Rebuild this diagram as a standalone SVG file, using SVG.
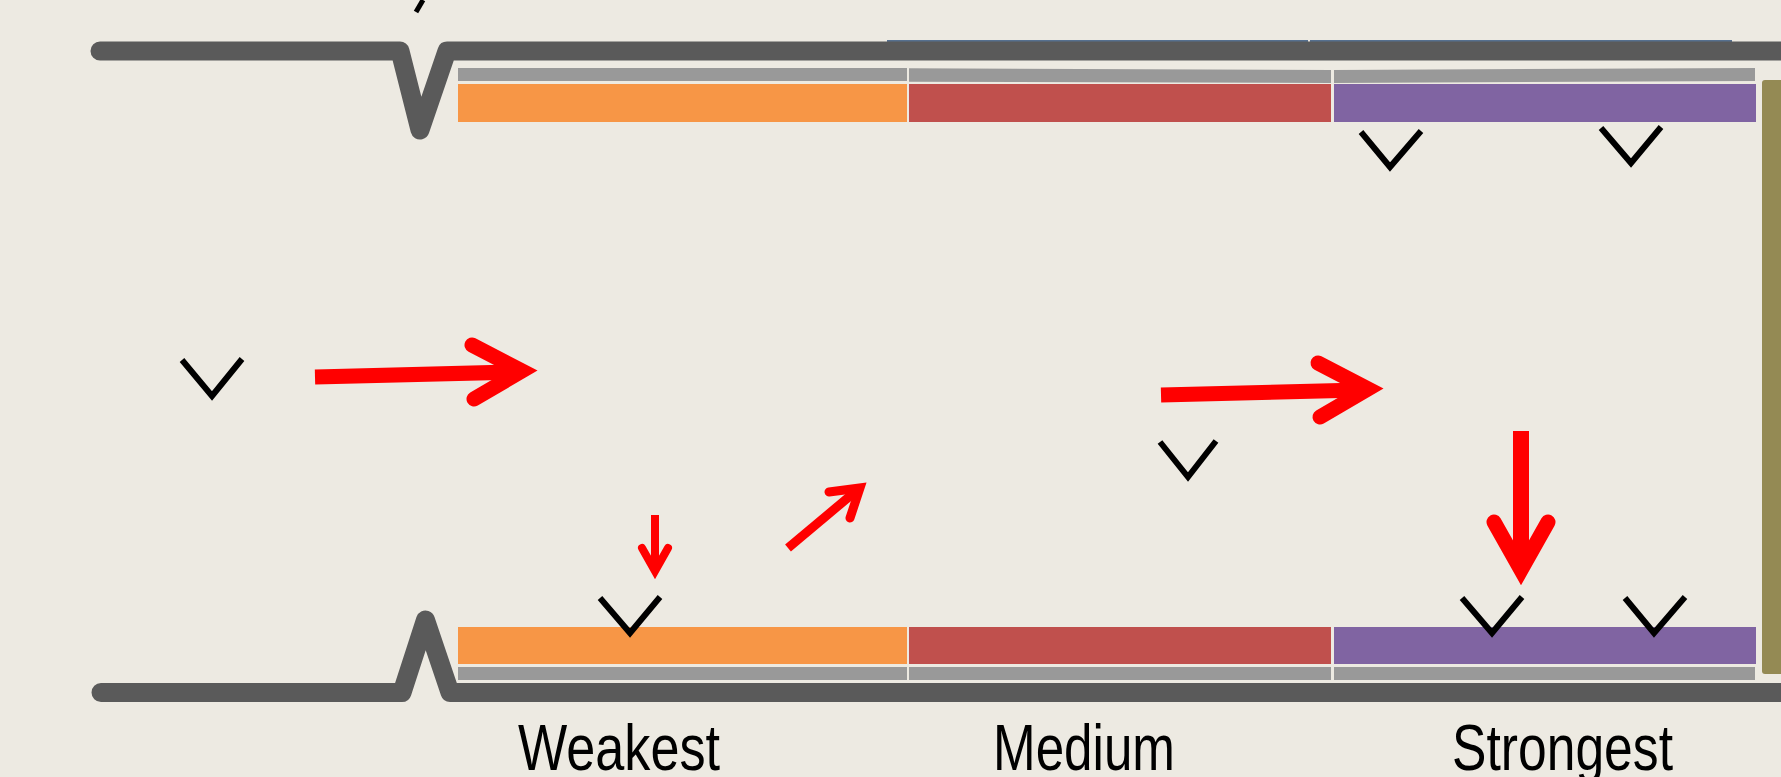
<svg xmlns="http://www.w3.org/2000/svg" width="1781" height="777" viewBox="0 0 1781 777">
  <style>
    .wall { fill: none; stroke: #5a5a5a; stroke-width: 19; stroke-linecap: round; stroke-linejoin: round; }
    .liner { fill: #999999; }
    .orange { fill: #f79646; }
    .red { fill: #c0504d; }
    .purple { fill: #8064a2; }
    .chev { fill: none; stroke: #000000; stroke-width: 6; stroke-linejoin: miter; }
    .shaft { fill: none; stroke: #ff0000; stroke-linecap: butt; }
    .head { fill: none; stroke: #ff0000; stroke-linecap: round; stroke-linejoin: miter; stroke-miterlimit: 10; }
    .label { font-family: "Liberation Sans", Arial, sans-serif; font-size: 65px; fill: #000000; }
  </style>
  <rect x="0" y="0" width="1781" height="777" fill="#edeae2"/>

  <g id="walls">
    <line x1="887" y1="41" x2="1308" y2="41" stroke="#56708f" stroke-width="2"/>
    <line x1="1310" y1="41" x2="1732" y2="41" stroke="#56708f" stroke-width="2"/>
    <polyline class="wall" points="100,51 400,51 420,130 447,51 1800,51"/>
    <polyline class="wall" points="101,692.5 402,692.5 425.5,620 450,692.5 1800,692.5"/>
    <line x1="423" y1="0" x2="416" y2="12" stroke="#000" stroke-width="5"/>
  </g>

  <g id="top-zones">
    <rect class="liner" x="458" y="68" width="449" height="13"/>
    <polygon class="liner" points="909,68.3 1331,70 1331,83 909,81.7"/>
    <polygon class="liner" points="1334,70 1755,68 1755,81 1334,83"/>
    <rect class="orange" x="458" y="84" width="449" height="38"/>
    <rect class="red" x="909" y="84" width="422" height="38"/>
    <rect class="purple" x="1334" y="84" width="422" height="38"/>
  </g>

  <g id="bottom-zones">
    <rect class="orange" x="458" y="627" width="449" height="37"/>
    <rect class="red" x="909" y="627" width="422" height="37"/>
    <rect class="purple" x="1334" y="627" width="422" height="37"/>
    <rect class="liner" x="458" y="667" width="449" height="13"/>
    <rect class="liner" x="909" y="667" width="422" height="13"/>
    <rect class="liner" x="1334" y="667" width="421" height="13"/>
  </g>

  <g id="end-plate">
    <rect x="1762" y="80" width="30" height="594" rx="3" fill="#948a54"/>
  </g>

  <g id="chevrons">
    <polyline class="chev" points="182,360 212,396 242,359"/>
    <polyline class="chev" points="1160,442 1188,477 1216,441"/>
    <polyline class="chev" points="1361,132 1390,167 1421,131"/>
    <polyline class="chev" points="1601,128 1631,163 1661,127"/>
    <polyline class="chev" points="600,598 630,633 660,597"/>
    <polyline class="chev" points="1462,598 1492,633 1522,597"/>
    <polyline class="chev" points="1625,598 1654,633 1685,597"/>
  </g>

  <g id="connectors">
    <g id="arrow-left">
      <line class="shaft" x1="315" y1="377" x2="515" y2="372" stroke-width="15"/>
      <polyline class="head" points="472,345 522,371 474,399" stroke-width="15"/>
    </g>
    <g id="arrow-middle">
      <line class="shaft" x1="1161" y1="395" x2="1361" y2="390" stroke-width="15"/>
      <polyline class="head" points="1318,363 1368,389 1320,417" stroke-width="15"/>
    </g>
    <g id="arrow-down-big">
      <line class="shaft" x1="1521" y1="431" x2="1521" y2="565" stroke-width="16"/>
      <polyline class="head" points="1494,522 1521,570 1548,522" stroke-width="15"/>
    </g>
    <g id="arrow-down-small">
      <line class="shaft" x1="655" y1="515" x2="655" y2="568" stroke-width="8"/>
      <polyline class="head" points="642,548 655,571 668,548" stroke-width="8"/>
    </g>
    <g id="arrow-diagonal">
      <line class="shaft" x1="788" y1="548" x2="856" y2="491" stroke-width="9"/>
      <polyline class="head" points="829,492 860,488 850,518" stroke-width="9"/>
    </g>
  </g>

  <g id="labels">
    <text class="label" x="518" y="770" textLength="202" lengthAdjust="spacingAndGlyphs">Weakest</text>
    <text class="label" x="993" y="770" textLength="182" lengthAdjust="spacingAndGlyphs">Medium</text>
    <text class="label" x="1452" y="770" textLength="221" lengthAdjust="spacingAndGlyphs">Strongest</text>
  </g>
</svg>
